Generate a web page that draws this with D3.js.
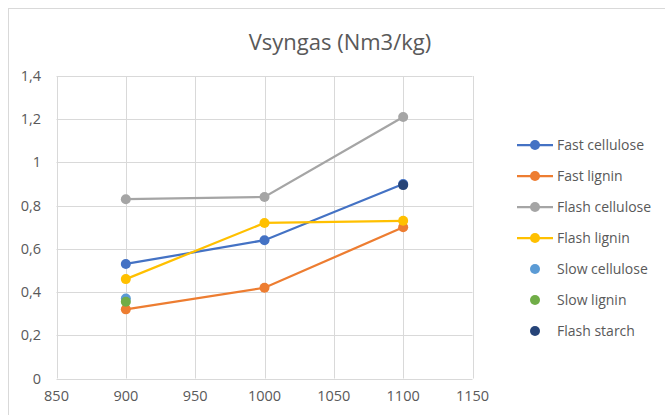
<!DOCTYPE html>
<html><head><meta charset="utf-8">
<script src="https://cdn.jsdelivr.net/npm/d3@7"></script>
<style>body{margin:0;background:#fff}svg{display:block}text{font-family:"Open Sans",sans-serif}</style>
</head><body><svg id="c" width="665" height="415"></svg>
<script>
const temps = [900, 1000, 1100];
const fastCellulose = [0.53, 0.64, 0.90];
const fastLignin = [0.32, 0.42, 0.70];
const flashCellulose = [0.83, 0.84, 1.21];
const flashLignin = [0.46, 0.72, 0.73];
const slowCellulose = [[900, 0.37]];
const slowLignin = [[900, 0.355]];
const flashStarch = [[1100, 0.895]];
const xTicks = [850, 900, 950, 1000, 1050, 1100, 1150];
const yTicks = [0, 0.2, 0.4, 0.6, 0.8, 1, 1.2, 1.4];
const seriesNames = ["Fast cellulose","Fast lignin","Flash cellulose","Flash lignin","Slow cellulose","Slow lignin","Flash starch"];
const colors = ["#4472C4","#ED7D31","#A5A5A5","#FFC000","#5B9BD5","#70AD47","#264478"];

const series = [
  {name: seriesNames[0], pts: temps.map((t,i)=>[t, fastCellulose[i]]), line: true},
  {name: seriesNames[1], pts: temps.map((t,i)=>[t, fastLignin[i]]), line: true},
  {name: seriesNames[2], pts: temps.map((t,i)=>[t, flashCellulose[i]]), line: true},
  {name: seriesNames[3], pts: temps.map((t,i)=>[t, flashLignin[i]]), line: true},
  {name: seriesNames[4], pts: slowCellulose, line: false},
  {name: seriesNames[5], pts: slowLignin, line: false},
  {name: seriesNames[6], pts: flashStarch, line: false}
];
series.forEach((s,i)=>s.color=colors[i]);

const svg = d3.select("#c");
svg.append("rect").attr("x",8.5).attr("y",8.5).attr("width",670).attr("height",420)
  .attr("fill","#fff").attr("stroke","#d9d9d9").attr("stroke-width",1);

const x = d3.scaleLinear().domain([850,1150]).range([56.5,472.5]);
const y = d3.scaleLinear().domain([0,1.4]).range([378.5,76]);

svg.append("text").attr("x",340).attr("y",50).attr("text-anchor","middle")
  .attr("font-size",22).attr("fill","#595959").text("Vsyngas (Nm3/kg)");

const g = svg.append("g");
g.selectAll("line.h").data(yTicks).join("line").attr("class","h")
  .attr("x1",x(850)).attr("x2",x(1150)).attr("y1",d=>Math.round(y(d))+0.5).attr("y2",d=>Math.round(y(d))+0.5)
  .attr("stroke","#d9d9d9").attr("stroke-width",1);
g.selectAll("line.v").data(xTicks).join("line").attr("class","v")
  .attr("y1",y(0)).attr("y2",y(1.4)).attr("x1",d=>Math.round(x(d))+0.5).attr("x2",d=>Math.round(x(d))+0.5)
  .attr("stroke","#d9d9d9").attr("stroke-width",1);

const fmt = d => String(d).replace(".", ",");
g.selectAll("text.yl").data(yTicks).join("text").attr("class","yl")
  .attr("x",41).attr("y",d=>y(d)+5).attr("text-anchor","end")
  .attr("font-size",14.5).attr("fill","#595959").text(fmt);
g.selectAll("text.xl").data(xTicks).join("text").attr("class","xl")
  .attr("x",d=>x(d)).attr("y",401).attr("text-anchor","middle")
  .attr("font-size",14.5).attr("fill","#595959").text(d=>d);

const lineGen = d3.line().x(d=>x(d[0])).y(d=>y(d[1]));
series.forEach(s=>{
  if (s.line) g.append("path").attr("d",lineGen(s.pts)).attr("fill","none")
    .attr("stroke",s.color).attr("stroke-width",2.25).attr("stroke-linecap","round");
});
series.forEach(s=>{
  g.selectAll(null).data(s.pts).join("circle").attr("cx",d=>x(d[0])).attr("cy",d=>y(d[1]))
    .attr("r",5).attr("fill",s.color);
});

const leg = svg.append("g");
series.forEach((s,i)=>{
  const ly = 145 + i*31;
  if (s.line) leg.append("line").attr("x1",517).attr("x2",553).attr("y1",ly).attr("y2",ly)
    .attr("stroke",s.color).attr("stroke-width",2.25);
  leg.append("circle").attr("cx",535).attr("cy",ly).attr("r",5).attr("fill",s.color);
  leg.append("text").attr("x",557).attr("y",ly+5).attr("font-size",14).attr("fill","#595959").text(s.name);
});
</script></body></html>
